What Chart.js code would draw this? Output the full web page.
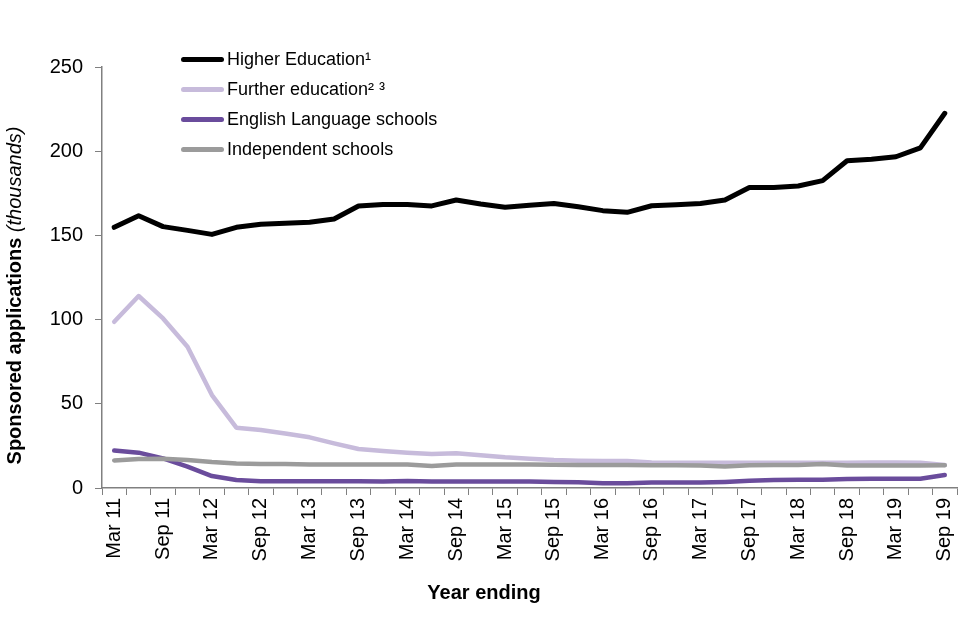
<!DOCTYPE html>
<html>
<head>
<meta charset="utf-8">
<script src="https://cdn.jsdelivr.net/npm/chart.js@4/dist/chart.umd.min.js"></script>
<style>
  html, body { margin:0; padding:0; background:#fff; }
  #wrap { position:relative; width:960px; height:640px; }
  #legend { position:absolute; left:181px; top:44px; margin:0; padding:0; list-style:none;
            font-family:"Liberation Sans", Arial, sans-serif; font-size:18px; color:#000; }
  #legend li { height:30px; line-height:26px; display:flex; align-items:center; }
  #legend span.swatch { display:inline-block; width:43px; height:5px; border-radius:3px; margin-right:3px; }
</style>
</head>
<body>
<div id="wrap">
  <canvas id="chart" width="960" height="640"></canvas>
  <ul id="legend"></ul>
</div>
<script>
// quarterly, year ending Mar 11 .. Sep 19
const quarters = [
  'Mar 11','Jun 11','Sep 11','Dec 11','Mar 12','Jun 12','Sep 12','Dec 12',
  'Mar 13','Jun 13','Sep 13','Dec 13','Mar 14','Jun 14','Sep 14','Dec 14',
  'Mar 15','Jun 15','Sep 15','Dec 15','Mar 16','Jun 16','Sep 16','Dec 16',
  'Mar 17','Jun 17','Sep 17','Dec 17','Mar 18','Jun 18','Sep 18','Dec 18',
  'Mar 19','Jun 19','Sep 19'
];

// thousands
const higherEducation = [154.8,161.7,155.2,153.0,150.6,154.8,156.6,157.2,157.8,159.7,167.5,168.4,168.4,167.5,171.0,168.6,166.7,167.9,169.0,167.0,164.7,163.7,167.6,168.2,169.0,171.0,178.5,178.5,179.3,182.5,194.3,195.2,196.7,202.0,222.5];
const furtherEducation = [98.7,114.0,100.7,83.9,55.2,35.8,34.4,32.4,30.1,26.5,23.2,22.0,21.0,20.2,20.6,19.4,18.2,17.4,16.6,16.2,16.0,16.0,15.2,15.0,15.0,15.0,15.0,15.0,15.0,15.0,15.0,15.2,15.2,15.0,13.7];
const englishLanguage = [22.2,21.0,17.6,12.7,7.1,4.7,4.0,4.0,4.0,4.0,4.0,3.9,4.2,3.9,3.9,3.9,3.8,3.8,3.6,3.4,2.8,2.8,3.2,3.2,3.2,3.6,4.3,4.7,4.9,4.9,5.3,5.5,5.5,5.5,7.7];
const independentSchools = [16.4,17.2,17.4,16.6,15.4,14.6,14.2,14.2,13.9,13.9,13.9,13.9,13.9,13.0,13.9,14.0,14.0,14.0,13.8,13.7,13.7,13.7,13.5,13.5,13.3,12.7,13.5,13.7,13.7,14.2,13.3,13.3,13.3,13.3,13.5];

const seriesNames = ['Higher Education\u00b9','Further education\u00b2 \u00b3','English Language schools','Independent schools'];
const yTicks = [0,50,100,150,200,250];

const FONT = '"Liberation Sans", Arial, sans-serif';

// axis titles: y has a bold part + italic part on one rotated line
const titlesPlugin = {
  id:'axisTitles',
  afterDraw(chart){
    const ctx = chart.ctx;
    const a = 'Sponsored applications ', b = '(thousands)';
    ctx.save();
    ctx.fillStyle = '#000';
    ctx.textBaseline = 'middle';

    ctx.font = 'bold 20px ' + FONT;
    ctx.textAlign = 'center';
    ctx.fillText('Year ending', 484, 593);

    const wa = ctx.measureText(a).width;
    ctx.font = 'italic 20px ' + FONT;
    const wb = ctx.measureText(b).width;
    const cy = (chart.chartArea.top + chart.chartArea.bottom) / 2 + 18;
    ctx.translate(15, cy + (wa + wb) / 2);
    ctx.rotate(-Math.PI / 2);
    ctx.textAlign = 'left';
    ctx.font = 'bold 20px ' + FONT;
    ctx.fillText(a, 0, 0);
    ctx.font = 'italic 20px ' + FONT;
    ctx.fillText(b, wa, 0);
    ctx.restore();
  }
};

const colors = ['#000000','#c7bbdb','#6a4c9c','#9b9b9b'];
const widths = [5,4.5,4.5,4.5];
const values = [higherEducation, furtherEducation, englishLanguage, independentSchools];

const chart = new Chart(document.getElementById('chart'), {
  type:'line',
  data:{
    labels: quarters,
    datasets: values.map((v,i)=>({
      label: seriesNames[i], data: v, borderColor: colors[i], backgroundColor: colors[i],
      borderWidth: widths[i], pointRadius:0, tension:0, borderCapStyle:'round', borderJoinStyle:'round'
    })).reverse()
  },
  options:{
    responsive:false, animation:false,
    layout:{ padding:{ top:67, right:3, left:0, bottom:0 } },
    plugins:{ legend:{ display:false }, tooltip:{ enabled:false } },
    scales:{
      x:{
        offset:true,
        grid:{ offset:true, drawOnChartArea:false, color:'#808080', tickLength:7 },
        border:{ color:'#808080', width:1.5 },
        ticks:{
          autoSkip:false, minRotation:90, maxRotation:90, color:'#000', padding:3,
          font:{ family:FONT, size:20 },
          callback(val, idx){ const l = quarters[idx]; return (l.startsWith('Mar') || l.startsWith('Sep')) ? l : ''; }
        },
        afterFit(s){ s.height = 152; s.paddingLeft = 0; s.paddingRight = 0; }
      },
      y:{
        min:0, max:250,
        afterBuildTicks(s){ s.ticks = yTicks.map(v=>({ value:v })); },
        grid:{ drawOnChartArea:false, color:'#808080', tickLength:7 },
        border:{ color:'#808080', width:1.5 },
        ticks:{ color:'#000', padding:12, font:{ family:FONT, size:20 } },
        afterFit(s){ s.width = 102; s.paddingTop = 0; s.paddingBottom = 0; }
      }
    }
  },
  plugins:[titlesPlugin]
});

// html legend in original series order
const legendEl = document.getElementById('legend');
seriesNames.forEach((name,i)=>{
  const li = document.createElement('li');
  const sw = document.createElement('span');
  sw.className = 'swatch';
  sw.style.background = colors[i];
  li.appendChild(sw);
  li.appendChild(document.createTextNode(name));
  legendEl.appendChild(li);
});
</script>
</body>
</html>
